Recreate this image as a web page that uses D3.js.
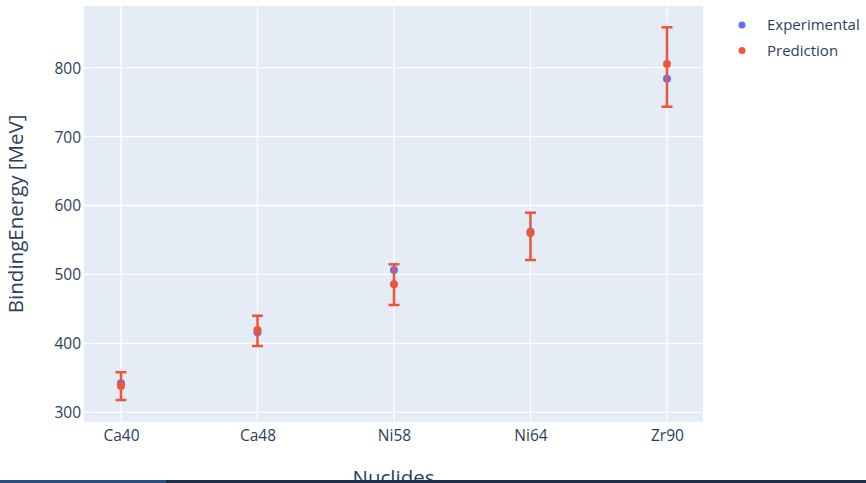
<!DOCTYPE html>
<html>
<head>
<meta charset="utf-8">
<script src="https://cdn.jsdelivr.net/npm/d3@7"></script>
<style>
  html, body { margin: 0; padding: 0; background: #fff; }
  svg text { font-family: "Open Sans", "Noto Sans", sans-serif; fill: #2a3f5f; }
</style>
</head>
<body>
<div id="chart"></div>
<script>
const nuclides = ["Ca40", "Ca48", "Ni58", "Ni64", "Zr90"];
const experimental = [342.05, 416.0, 506.46, 561.76, 783.89];
const prediction = [338.2, 419.4, 485.7, 560.1, 805.3];
const errPlus = [20, 20.7, 29, 29.5, 53.2];
const errMinus = [20.3, 23.2, 30, 39.2, 62];
const yTicks = [300, 400, 500, 600, 700, 800];
const seriesNames = ["Experimental", "Prediction"];
const seriesColors = ["#636efa", "#ef553b"];

const width = 866, height = 483;
const plot = { left: 84, right: 703, top: 6, bottom: 421.7 };

const svg = d3.select("#chart").append("svg")
    .attr("width", width).attr("height", height);

const x = d3.scaleLinear().domain([-0.271, 4.264]).range([plot.left, plot.right]);
const y = d3.scaleLinear().domain([286.4, 889.4]).range([plot.bottom, plot.top]);

// background
svg.append("rect")
    .attr("x", plot.left).attr("y", plot.top)
    .attr("width", plot.right - plot.left).attr("height", plot.bottom - plot.top)
    .attr("fill", "#e5ecf6");

// grid
const grid = svg.append("g");
grid.selectAll(".gy").data(yTicks).enter().append("line")
    .attr("x1", plot.left).attr("x2", plot.right)
    .attr("y1", d => y(d)).attr("y2", d => y(d))
    .attr("stroke", "#fff").attr("stroke-width", 1.3);
grid.selectAll(".gx").data(nuclides).enter().append("line")
    .attr("x1", (d, i) => x(i)).attr("x2", (d, i) => x(i))
    .attr("y1", plot.top).attr("y2", plot.bottom)
    .attr("stroke", "#fff").attr("stroke-width", 1.3);

// axes labels
const yAxis = d3.axisLeft(y).tickValues(yTicks).tickSize(0).tickPadding(3);
const gy = svg.append("g").attr("transform", `translate(${plot.left},0)`).call(yAxis);
gy.select(".domain").remove();
gy.selectAll("text").style("font-size", "15.5px").attr("fill", "#2a3f5f").attr("dy", "0.35em");

const xAxis = d3.axisBottom(x).tickValues(d3.range(nuclides.length))
    .tickFormat(i => nuclides[i]).tickSize(0).tickPadding(8);
const gx = svg.append("g").attr("transform", `translate(0,${plot.bottom})`).call(xAxis);
gx.select(".domain").remove();
gx.selectAll("text").style("font-size", "15.5px").attr("fill", "#2a3f5f");

// titles
svg.append("text")
    .attr("transform", `translate(23,${(plot.top + plot.bottom) / 2}) rotate(-90)`)
    .attr("text-anchor", "middle")
    .style("font-size", "20.5px")
    .text("BindingEnergy [MeV]");
svg.append("text")
    .attr("x", (plot.left + plot.right) / 2).attr("y", 485)
    .attr("text-anchor", "middle")
    .style("font-size", "20.5px")
    .text("Nuclides");

// experimental points
svg.append("g").selectAll("circle").data(experimental).enter().append("circle")
    .attr("cx", (d, i) => x(i)).attr("cy", d => y(d)).attr("r", 4)
    .attr("fill", seriesColors[0]);

// prediction error bars
const eb = svg.append("g").attr("stroke", seriesColors[1]).attr("stroke-width", 2.5);
prediction.forEach((v, i) => {
    const cx = x(i), top = y(v + errPlus[i]), bot = y(v - errMinus[i]);
    eb.append("line").attr("x1", cx).attr("x2", cx).attr("y1", top).attr("y2", bot);
    eb.append("line").attr("x1", cx - 5.5).attr("x2", cx + 5.5).attr("y1", top).attr("y2", top);
    eb.append("line").attr("x1", cx - 5.5).attr("x2", cx + 5.5).attr("y1", bot).attr("y2", bot);
});
svg.append("g").selectAll("circle").data(prediction).enter().append("circle")
    .attr("cx", (d, i) => x(i)).attr("cy", d => y(d)).attr("r", 4)
    .attr("fill", seriesColors[1]);

// legend
const legend = svg.append("g");
seriesNames.forEach((name, i) => {
    const ly = 25 + i * 25.5;
    legend.append("circle").attr("cx", 742).attr("cy", ly).attr("r", 3.5).attr("fill", seriesColors[i]);
    legend.append("text").attr("x", 767).attr("y", ly).attr("dy", "0.35em")
        .style("font-size", "15px").text(name);
});

// bottom strip
svg.append("rect").attr("x", 0).attr("y", 480).attr("width", width).attr("height", 3).attr("fill", "#1c2e4a");
svg.append("rect").attr("x", 0).attr("y", 480).attr("width", 166).attr("height", 3).attr("fill", "#2b4f7e");
</script>
</body>
</html>
